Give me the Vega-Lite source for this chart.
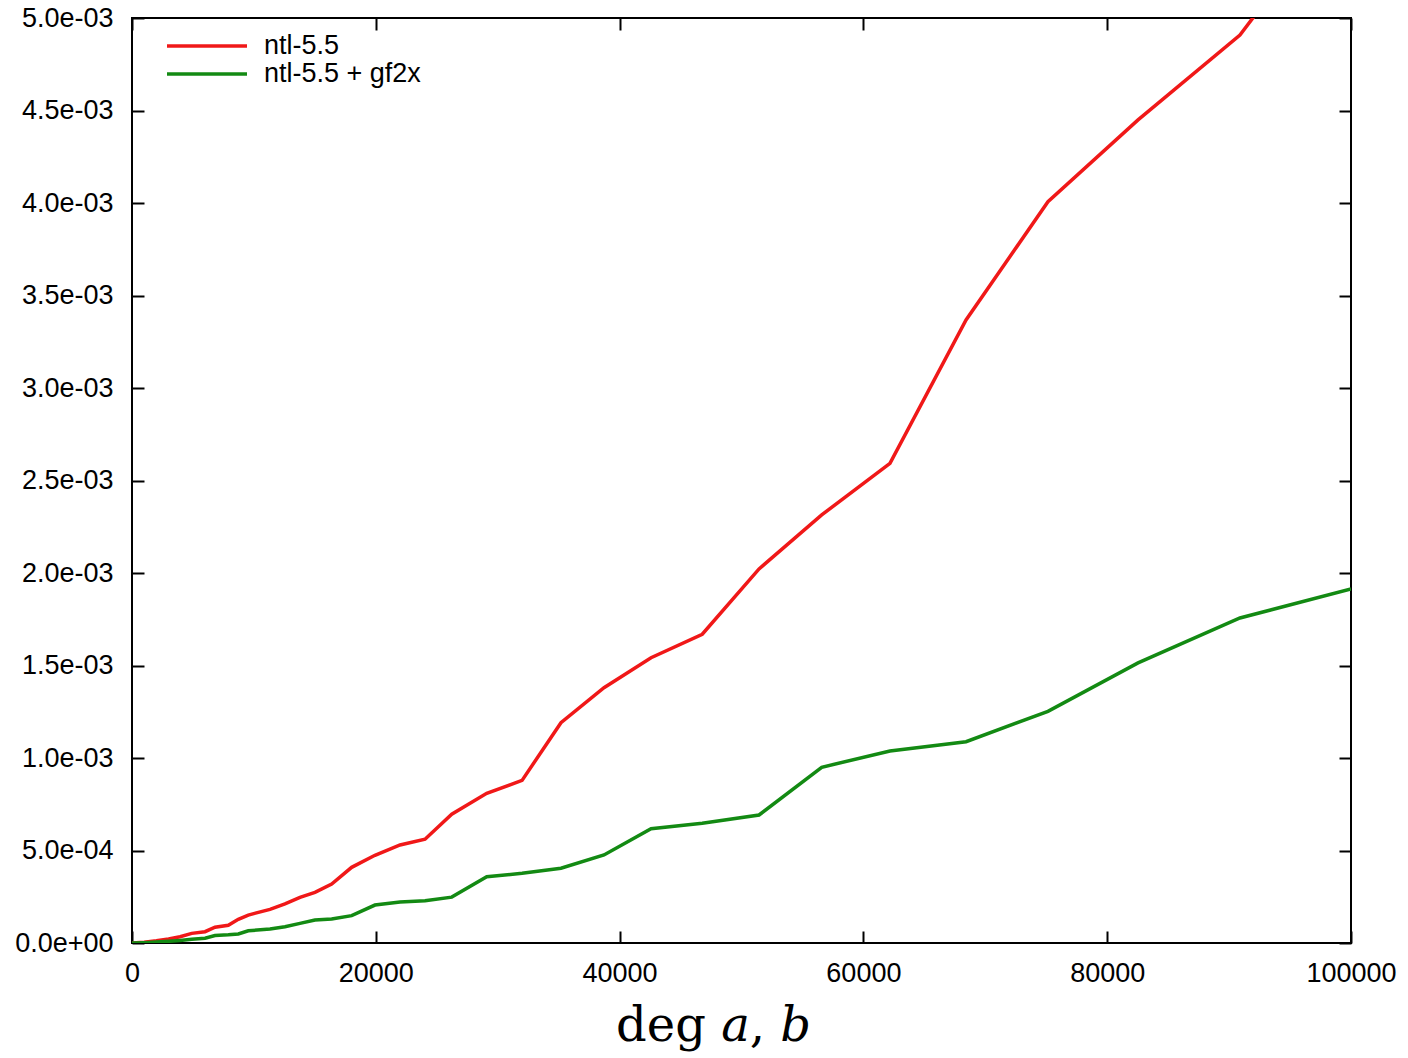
{
  "$schema": "https://vega.github.io/schema/vega-lite/v6.json",
  "width": 1219,
  "height": 925,
  "autosize": {"type": "none"},
  "padding": {"left": 132, "top": 18, "right": 57, "bottom": 115},
  "background": "white",
  "config": {
    "view": {"stroke": "black", "strokeWidth": 2},
    "font": "Liberation Sans",
    "axis": {
      "grid": false,
      "domain": false,
      "ticks": true,
      "tickColor": "black",
      "tickWidth": 2,
      "tickSize": -12,
      "labelFont": "Liberation Sans",
      "labelFontSize": 27,
      "labelColor": "black",
      "labelPadding": 31,
      "labelFlush": false
    }
  },
  "datasets": {
    "curves": [
      {"series": "ntl-5.5", "deg": 0, "t": 0},
      {"series": "ntl-5.5", "deg": 1000, "t": 0.000004},
      {"series": "ntl-5.5", "deg": 2000, "t": 0.000012},
      {"series": "ntl-5.5", "deg": 3000, "t": 0.000022},
      {"series": "ntl-5.5", "deg": 3940, "t": 0.000034},
      {"series": "ntl-5.5", "deg": 4900, "t": 0.000052},
      {"series": "ntl-5.5", "deg": 5990, "t": 0.000061},
      {"series": "ntl-5.5", "deg": 6810, "t": 0.000085},
      {"series": "ntl-5.5", "deg": 7900, "t": 0.000096},
      {"series": "ntl-5.5", "deg": 8720, "t": 0.000128},
      {"series": "ntl-5.5", "deg": 9540, "t": 0.000151},
      {"series": "ntl-5.5", "deg": 11320, "t": 0.000182},
      {"series": "ntl-5.5", "deg": 12550, "t": 0.000211},
      {"series": "ntl-5.5", "deg": 13780, "t": 0.000247},
      {"series": "ntl-5.5", "deg": 15010, "t": 0.000274},
      {"series": "ntl-5.5", "deg": 16380, "t": 0.000319},
      {"series": "ntl-5.5", "deg": 18020, "t": 0.000409},
      {"series": "ntl-5.5", "deg": 19930, "t": 0.000474},
      {"series": "ntl-5.5", "deg": 21990, "t": 0.000530},
      {"series": "ntl-5.5", "deg": 24040, "t": 0.000561},
      {"series": "ntl-5.5", "deg": 26230, "t": 0.000696},
      {"series": "ntl-5.5", "deg": 29100, "t": 0.000809},
      {"series": "ntl-5.5", "deg": 32000, "t": 0.000879},
      {"series": "ntl-5.5", "deg": 35190, "t": 0.001191},
      {"series": "ntl-5.5", "deg": 38720, "t": 0.001380},
      {"series": "ntl-5.5", "deg": 42580, "t": 0.001542},
      {"series": "ntl-5.5", "deg": 46780, "t": 0.001669},
      {"series": "ntl-5.5", "deg": 51440, "t": 0.002022},
      {"series": "ntl-5.5", "deg": 56580, "t": 0.002314},
      {"series": "ntl-5.5", "deg": 62180, "t": 0.002593},
      {"series": "ntl-5.5", "deg": 68420, "t": 0.003368},
      {"series": "ntl-5.5", "deg": 75140, "t": 0.004007},
      {"series": "ntl-5.5", "deg": 82530, "t": 0.004449},
      {"series": "ntl-5.5", "deg": 90890, "t": 0.004908},
      {"series": "ntl-5.5", "deg": 100000, "t": 0.005700},
      {"series": "ntl-5.5 + gf2x", "deg": 0, "t": 0},
      {"series": "ntl-5.5 + gf2x", "deg": 1000, "t": 0.000002},
      {"series": "ntl-5.5 + gf2x", "deg": 2000, "t": 0.000005},
      {"series": "ntl-5.5 + gf2x", "deg": 3000, "t": 0.000009},
      {"series": "ntl-5.5 + gf2x", "deg": 3940, "t": 0.000014},
      {"series": "ntl-5.5 + gf2x", "deg": 4900, "t": 0.000020},
      {"series": "ntl-5.5 + gf2x", "deg": 5990, "t": 0.000026},
      {"series": "ntl-5.5 + gf2x", "deg": 6810, "t": 0.000040},
      {"series": "ntl-5.5 + gf2x", "deg": 7900, "t": 0.000044},
      {"series": "ntl-5.5 + gf2x", "deg": 8720, "t": 0.000049},
      {"series": "ntl-5.5 + gf2x", "deg": 9540, "t": 0.000066},
      {"series": "ntl-5.5 + gf2x", "deg": 11320, "t": 0.000076},
      {"series": "ntl-5.5 + gf2x", "deg": 12550, "t": 0.000088},
      {"series": "ntl-5.5 + gf2x", "deg": 13780, "t": 0.000106},
      {"series": "ntl-5.5 + gf2x", "deg": 15010, "t": 0.000124},
      {"series": "ntl-5.5 + gf2x", "deg": 16380, "t": 0.000130},
      {"series": "ntl-5.5 + gf2x", "deg": 18020, "t": 0.000148},
      {"series": "ntl-5.5 + gf2x", "deg": 19930, "t": 0.000205},
      {"series": "ntl-5.5 + gf2x", "deg": 21990, "t": 0.000222},
      {"series": "ntl-5.5 + gf2x", "deg": 24040, "t": 0.000229},
      {"series": "ntl-5.5 + gf2x", "deg": 26230, "t": 0.000248},
      {"series": "ntl-5.5 + gf2x", "deg": 29100, "t": 0.000358},
      {"series": "ntl-5.5 + gf2x", "deg": 32000, "t": 0.000377},
      {"series": "ntl-5.5 + gf2x", "deg": 35190, "t": 0.000404},
      {"series": "ntl-5.5 + gf2x", "deg": 38720, "t": 0.000476},
      {"series": "ntl-5.5 + gf2x", "deg": 42580, "t": 0.000618},
      {"series": "ntl-5.5 + gf2x", "deg": 46780, "t": 0.000647},
      {"series": "ntl-5.5 + gf2x", "deg": 51440, "t": 0.000692},
      {"series": "ntl-5.5 + gf2x", "deg": 56580, "t": 0.000950},
      {"series": "ntl-5.5 + gf2x", "deg": 62180, "t": 0.001038},
      {"series": "ntl-5.5 + gf2x", "deg": 68420, "t": 0.001088},
      {"series": "ntl-5.5 + gf2x", "deg": 75140, "t": 0.001252},
      {"series": "ntl-5.5 + gf2x", "deg": 82530, "t": 0.001514},
      {"series": "ntl-5.5 + gf2x", "deg": 90890, "t": 0.001757},
      {"series": "ntl-5.5 + gf2x", "deg": 100000, "t": 0.001914}
    ]
  },
  "layer": [
    {
      "data": {"name": "curves"},
      "mark": {"type": "line", "strokeWidth": 3.5, "clip": true, "strokeJoin": "miter"},
      "encoding": {
        "x": {
          "field": "deg", "type": "quantitative",
          "scale": {"domain": [0, 100000], "nice": false, "zero": false},
          "axis": {
            "orient": "bottom",
            "values": [0, 20000, 40000, 60000, 80000, 100000],
            "format": "d",
            "labelPadding": 29,
            "title": "deg 𝑎, 𝑏",
            "titleFont": "DejaVu Serif",
            "titleFontSize": 48,
            "titleFontWeight": "normal",
            "titleColor": "black",
            "titleX": 581,
            "titleY": 97,
            "titleBaseline": "alphabetic",
            "titleAnchor": "middle"
          }
        },
        "y": {
          "field": "t", "type": "quantitative",
          "scale": {"domain": [0, 0.005], "nice": false, "zero": false},
          "axis": {
            "orient": "left",
            "values": [0, 0.0005, 0.001, 0.0015, 0.002, 0.0025, 0.003, 0.0035, 0.004, 0.0045, 0.005],
            "labelExpr": "slice(format(datum.value, '.1e'), 0, -1) + '0' + slice(format(datum.value, '.1e'), -1)",
            "title": null
          }
        },
        "color": {
          "field": "series", "type": "nominal",
          "scale": {"domain": ["ntl-5.5", "ntl-5.5 + gf2x"], "range": ["#f01818", "#138a13"]},
          "legend": {
            "title": null,
            "orient": "none",
            "legendX": 33,
            "legendY": 14,
            "padding": 0,
            "symbolType": "stroke",
            "symbolSize": 6400,
            "symbolStrokeWidth": 3.5,
            "clipHeight": 28,
            "labelFont": "Liberation Sans",
            "labelFontSize": 27,
            "labelColor": "black",
            "labelOffset": 15,
            "rowPadding": 0
          }
        }
      }
    },
    {
      "data": {"name": "curves"},
      "mark": {"type": "line", "opacity": 0},
      "encoding": {
        "x": {
          "field": "deg", "type": "quantitative",
          "scale": {"domain": [0, 100000], "nice": false, "zero": false},
          "axis": {"orient": "top", "values": [0, 20000, 40000, 60000, 80000, 100000], "labels": false, "title": null}
        },
        "y": {
          "field": "t", "type": "quantitative",
          "scale": {"domain": [0, 0.005], "nice": false, "zero": false},
          "axis": {"orient": "right", "values": [0, 0.0005, 0.001, 0.0015, 0.002, 0.0025, 0.003, 0.0035, 0.004, 0.0045, 0.005], "labels": false, "title": null}
        },
        "detail": {"field": "series", "type": "nominal"}
      }
    }
  ],
  "resolve": {"scale": {"x": "independent", "y": "independent"}}
}
